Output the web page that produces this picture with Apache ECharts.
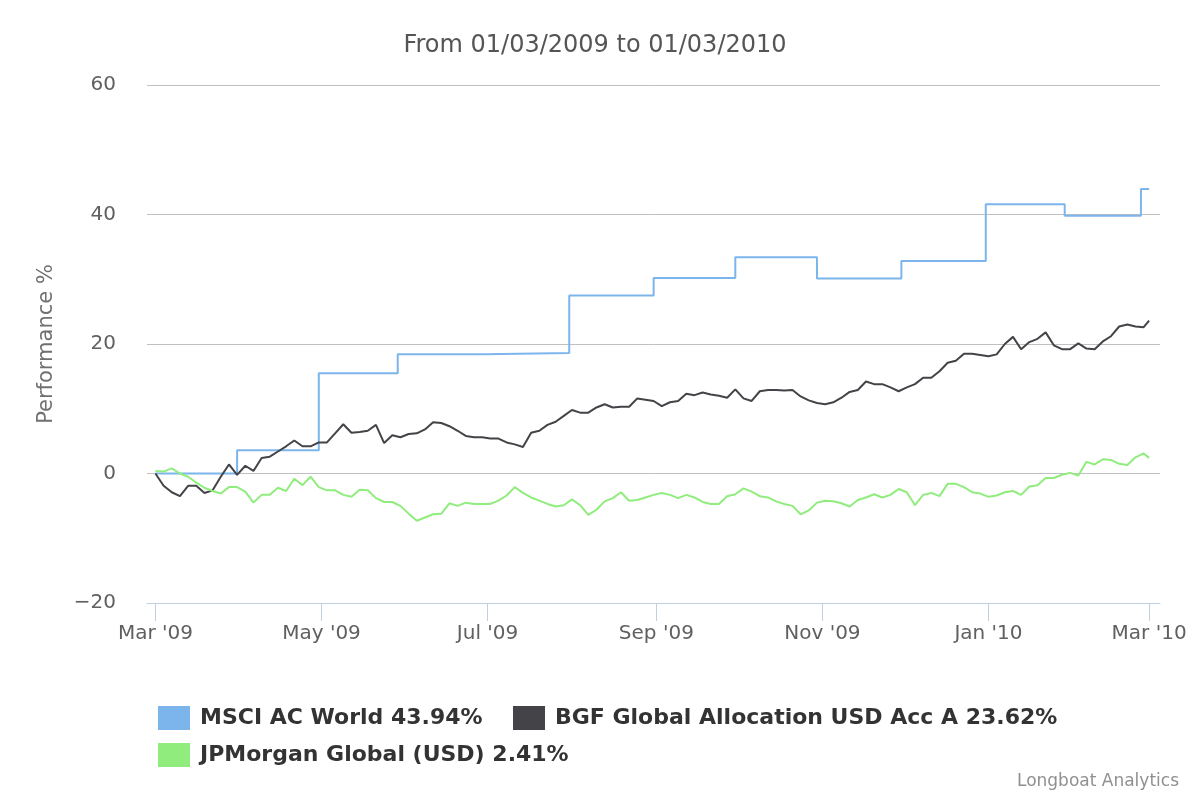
<!DOCTYPE html>
<html>
<head>
    <meta charset="utf-8">
    <title>Performance</title>
    <script src="https://cdn.jsdelivr.net/npm/echarts@6/dist/echarts.min.js"></script>
    <style>
        html, body { margin: 0; padding: 0; background: #fff; }
        #chart { width: 1200px; height: 800px; }
    </style>
</head>
<body>
    <div id="chart"></div>
    <script type="text/javascript">
        var titleText = 'From 01/03/2009 to 01/03/2010';
        var seriesNames = ['MSCI AC World 43.94%', 'BGF Global Allocation USD Acc A 23.62%', 'JPMorgan Global (USD) 2.41%'];
        var seriesColors = ['#7cb5ec', '#434348', '#90ed7d'];
        var tickDates = ['2009-03-01', '2009-05-01', '2009-07-01', '2009-09-01', '2009-11-01', '2010-01-01', '2010-03-01'];
        var monthNames = ['Jan', 'Feb', 'Mar', 'Apr', 'May', 'Jun', 'Jul', 'Aug', 'Sep', 'Oct', 'Nov', 'Dec'];

        // MSCI index is only updated at month end -> step line
        var msciDates = ['2009-03-01', '2009-03-31', '2009-04-30', '2009-05-29', '2009-06-30', '2009-07-31',
            '2009-08-31', '2009-09-30', '2009-10-30', '2009-11-30', '2009-12-31', '2010-01-29', '2010-02-26', '2010-03-01'];
        var msciValues = [0, 3.6, 15.5, 18.4, 18.6, 27.5, 30.2, 33.4, 30.1, 32.8, 41.6, 39.8, 43.94, 43.94];

        // fund values, one reading every 3 days from 01/03/2009, last one on 01/03/2010
        var startDate = '2009-03-01';
        var endDate = '2010-03-01';
        var stepDays = 3;
        var bgfValues = [
            0, -1.9, -2.9, -3.5, -1.9, -1.9, -3.0, -2.6, -0.5, 1.4,
            -0.2, 1.2, 0.4, 2.4, 2.6, 3.4, 4.2, 5.1, 4.2, 4.2,
            4.8, 4.8, 6.2, 7.6, 6.3, 6.4, 6.6, 7.5, 4.7, 5.9,
            5.6, 6.1, 6.2, 6.8, 7.9, 7.8, 7.3, 6.6, 5.8, 5.6,
            5.6, 5.4, 5.4, 4.8, 4.5, 4.1, 6.3, 6.6, 7.5, 8.0,
            8.9, 9.8, 9.4, 9.4, 10.2, 10.7, 10.2, 10.3, 10.3, 11.6,
            11.4, 11.2, 10.4, 11.0, 11.2, 12.3, 12.1, 12.5, 12.2, 12.0,
            11.7, 13.0, 11.6, 11.2, 12.7, 12.9, 12.9, 12.8, 12.9, 11.9,
            11.3, 10.9, 10.7, 11.0, 11.7, 12.6, 12.9, 14.2, 13.8, 13.8,
            13.3, 12.7, 13.3, 13.8, 14.8, 14.8, 15.8, 17.1, 17.4, 18.5,
            18.5, 18.3, 18.1, 18.4, 20.0, 21.1, 19.2, 20.3, 20.8, 21.8,
            19.8, 19.2, 19.2, 20.1, 19.3, 19.2, 20.4, 21.2, 22.7, 23.0,
            22.7, 22.6
        ];
        var bgfLast = 23.62;
        var jpmValues = [
            0.4, 0.3, 0.8, 0.0, -0.5, -1.4, -2.2, -2.7, -3.1, -2.1,
            -2.1, -2.8, -4.5, -3.3, -3.3, -2.2, -2.7, -0.8, -1.8, -0.5,
            -2.1, -2.6, -2.6, -3.3, -3.6, -2.5, -2.6, -3.8, -4.4, -4.4,
            -5.0, -6.2, -7.3, -6.8, -6.3, -6.2, -4.6, -5.0, -4.5, -4.7,
            -4.7, -4.7, -4.2, -3.4, -2.1, -3.0, -3.7, -4.2, -4.7, -5.1,
            -4.9, -4.0, -4.9, -6.4, -5.6, -4.3, -3.8, -2.9, -4.2, -4.1,
            -3.7, -3.3, -3.0, -3.3, -3.8, -3.3, -3.7, -4.4, -4.7, -4.7,
            -3.5, -3.2, -2.3, -2.8, -3.5, -3.7, -4.3, -4.7, -5.0, -6.3,
            -5.7, -4.5, -4.2, -4.3, -4.6, -5.1, -4.1, -3.7, -3.2, -3.7,
            -3.3, -2.4, -2.9, -4.9, -3.3, -3.0, -3.5, -1.6, -1.6, -2.1,
            -2.9, -3.1, -3.6, -3.4, -2.9, -2.7, -3.3, -2.0, -1.8, -0.7,
            -0.7, -0.2, 0.1, -0.3, 1.8, 1.4, 2.2, 2.1, 1.5, 1.3,
            2.5, 3.1
        ];
        var jpmLast = 2.41;

        var DAY = 86400000;
        function ts(s) { return new Date(s + 'T00:00:00Z').getTime(); }

        function fundSeries(values, last) {
            var t0 = ts(startDate);
            var out = values.map(function (v, i) { return [t0 + i * stepDays * DAY, v]; });
            out.push([ts(endDate), last]);
            return out;
        }

        var msciData = msciDates.map(function (d, i) { return [ts(d), msciValues[i]]; });
        var ticks = tickDates.map(ts);

        var chart = echarts.init(document.getElementById('chart'));
        var font = 'DejaVu Sans';
        var legendText = { fontSize: 22, fontWeight: 'bold', color: '#333333', fontFamily: font, padding: [0, 0, 0, 5] };

        function legendAt(name, left, top) {
            return {
                data: [name], left: left, top: top, padding: 0,
                icon: 'rect', itemWidth: 32, itemHeight: 24,
                selectedMode: false, textStyle: legendText
            };
        }

        var option = {
            animation: false,
            textStyle: { fontFamily: font },
            title: {
                text: titleText,
                left: 590, top: 29, textAlign: 'center',
                textStyle: { fontSize: 24, fontWeight: 'normal', color: '#555555', fontFamily: font }
            },
            legend: [
                legendAt(seriesNames[0], 158, 706),
                legendAt(seriesNames[1], 513, 706),
                legendAt(seriesNames[2], 158, 743)
            ],
            graphic: [{
                type: 'text', right: 21, top: 773,
                style: { text: 'Longboat Analytics', fill: '#909090', fontSize: 17, fontFamily: font }
            }],
            grid: { left: 147, right: 40, top: 85, bottom: 197, containLabel: false },
            xAxis: {
                // dates as UTC timestamps on a plain value axis, month ticks listed explicitly
                type: 'value',
                min: ts(startDate) - 3.1 * DAY,
                max: ts(endDate) + 4.0 * DAY,
                axisLine: { onZero: false, lineStyle: { color: '#C0D0E0', width: 1 } },
                axisTick: { show: true, length: 18, customValues: ticks, lineStyle: { color: '#C0D0E0' } },
                splitLine: { show: false },
                axisLabel: {
                    customValues: ticks,
                    margin: 21,
                    fontSize: 20,
                    color: '#606060',
                    fontFamily: font,
                    formatter: function (v) {
                        var d = new Date(v);
                        return monthNames[d.getUTCMonth()] + " '" + String(d.getUTCFullYear()).slice(2);
                    }
                }
            },
            yAxis: {
                type: 'value',
                min: -20, max: 60, interval: 20,
                name: 'Performance %',
                nameLocation: 'middle',
                nameGap: 90,
                nameTextStyle: { fontSize: 21, color: '#707070', fontFamily: font },
                axisLine: { show: false },
                axisTick: { show: false },
                axisLabel: {
                    fontSize: 20, color: '#606060', margin: 31, fontFamily: font,
                    formatter: function (v) { return v < 0 ? '\u2212' + Math.abs(v) : String(v); }
                },
                splitLine: { lineStyle: { color: '#C0C0C0', width: 1 } }
            },
            series: [
                {
                    name: seriesNames[0], type: 'line', step: 'end',
                    data: msciData, showSymbol: false, color: seriesColors[0],
                    lineStyle: { width: 2, color: seriesColors[0] }
                },
                {
                    name: seriesNames[1], type: 'line',
                    data: fundSeries(bgfValues, bgfLast), showSymbol: false, color: seriesColors[1],
                    lineStyle: { width: 2, color: seriesColors[1] }
                },
                {
                    name: seriesNames[2], type: 'line',
                    data: fundSeries(jpmValues, jpmLast), showSymbol: false, color: seriesColors[2],
                    lineStyle: { width: 2, color: seriesColors[2] }
                }
            ]
        };

        chart.setOption(option);
    </script>
</body>
</html>
